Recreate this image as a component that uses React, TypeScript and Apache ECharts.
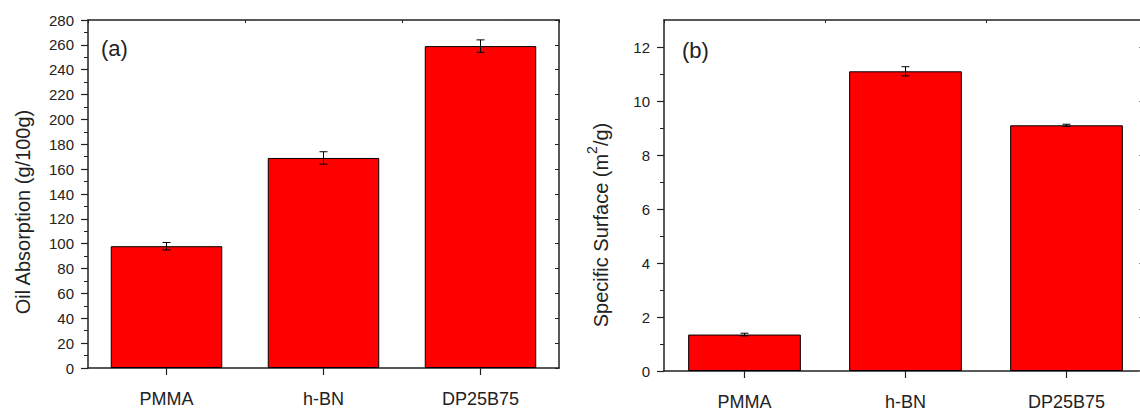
import React, { useEffect, useRef } from "react";
import * as echarts from "echarts";

const categories = ["PMMA", "h-BN", "DP25B75"];
const oilAbsorption = [98, 169, 259];
const oilError = [3, 5, 5];
const specificSurface = [1.35, 11.1, 9.1];
const surfaceError = [0.05, 0.17, 0.04];
const surfaceMajorTicks = [0, 2, 4, 6, 8, 10, 12];
const surfaceMinorTicks = [1, 3, 5, 7, 9, 11];

const FONT = "'Liberation Sans', Arial, sans-serif";
const AX = "#222";

function errorRender(params: any, api: any) {
  const x = api.value(0);
  const v = api.value(1);
  const e = api.value(2);
  const top = api.coord([x, v + e]);
  const bot = api.coord([x, v - e]);
  const w = 4;
  const st = { stroke: "#000", lineWidth: 1 };
  return {
    type: "group",
    children: [
      { type: "line", shape: { x1: top[0], y1: top[1], x2: bot[0], y2: bot[1] }, style: st },
      { type: "line", shape: { x1: top[0] - w, y1: top[1], x2: top[0] + w, y2: top[1] }, style: st },
      { type: "line", shape: { x1: bot[0] - w, y1: bot[1], x2: bot[0] + w, y2: bot[1] }, style: st },
    ],
  };
}

export default function App() {
  const ref = useRef<HTMLDivElement>(null);
  useEffect(() => {
    const chart = echarts.init(ref.current!, null, { renderer: "svg" });
    const lineStyle = { color: AX, width: 1.5 };
    const catBottom = (grid: number) => ({
      type: "category",
      gridIndex: grid,
      position: "bottom",
      data: categories,
      axisLine: { show: true, onZero: false, lineStyle },
      axisTick: { show: true, alignWithLabel: true, length: 7, lineStyle: { color: AX, width: 1.2 } },
      axisLabel: { fontSize: 18, color: AX, fontFamily: FONT, margin: 22 },
    });
    const catTop = (grid: number) => ({
      type: "category",
      gridIndex: grid,
      position: "top",
      data: categories,
      axisLine: { show: true, onZero: false, lineStyle },
      axisTick: { show: true, inside: true, length: 3, lineStyle: { color: AX, width: 1 } },
      axisLabel: { show: false },
    });
    const option: any = {
      animation: false,
      grid: [
        { left: 88, top: 20, width: 471, height: 348, outerBoundsMode: "none", containLabel: false },
        { left: 664, top: 20, width: 483, height: 351, outerBoundsMode: "none", containLabel: false },
      ],
      xAxis: [catBottom(0), catTop(0), catBottom(1), catTop(1)],
      yAxis: [
        {
          type: "value",
          gridIndex: 0,
          position: "left",
          min: 0,
          max: 280,
          interval: 20,
          axisLine: { show: true, onZero: false, lineStyle },
          axisTick: { show: true, length: 7, lineStyle: { color: AX, width: 1.2 } },
          minorTick: { show: true, splitNumber: 2, length: 4, lineStyle: { color: AX, width: 1 } },
          splitLine: { show: false },
          axisLabel: { fontSize: 15, color: AX, fontFamily: FONT, margin: 14 },
        },
        {
          type: "value",
          gridIndex: 0,
          position: "right",
          min: 0,
          max: 280,
          interval: 20,
          axisLine: { show: true, onZero: false, lineStyle },
          axisTick: { show: true, inside: true, length: 4, lineStyle: { color: AX, width: 1 } },
          splitLine: { show: false },
          axisLabel: { show: false },
        },
        {
          type: "value",
          gridIndex: 1,
          position: "left",
          min: 0,
          max: 13,
          interval: 1,
          axisLine: { show: true, onZero: false, lineStyle },
          axisTick: { show: true, length: 7, customValues: surfaceMajorTicks, lineStyle: { color: AX, width: 1.2 } },
          splitLine: { show: false },
          axisLabel: { fontSize: 15, color: AX, fontFamily: FONT, margin: 14, customValues: surfaceMajorTicks },
        },
        {
          type: "value",
          gridIndex: 1,
          position: "right",
          min: 0,
          max: 13,
          interval: 1,
          axisLine: { show: true, onZero: false, lineStyle },
          axisTick: { show: true, inside: true, length: 8, customValues: surfaceMajorTicks, lineStyle: { color: "#888", width: 1 } },
          splitLine: { show: false },
          axisLabel: { show: false },
        },
        {
          type: "value",
          gridIndex: 1,
          position: "left",
          min: 0,
          max: 13,
          interval: 1,
          axisLine: { show: false, onZero: false },
          axisTick: { show: true, length: 4, customValues: surfaceMinorTicks, lineStyle: { color: AX, width: 1 } },
          splitLine: { show: false },
          axisLabel: { show: false },
        },
      ],
      series: [
        {
          type: "bar",
          xAxisIndex: 0,
          yAxisIndex: 0,
          data: oilAbsorption,
          barWidth: "71%",
          itemStyle: { color: "#ff0000", borderColor: "#000", borderWidth: 1 },
        },
        {
          type: "custom",
          xAxisIndex: 0,
          yAxisIndex: 0,
          z: 10,
          renderItem: errorRender,
          encode: { x: 0, y: 1 },
          data: categories.map((_, i) => [i, oilAbsorption[i], oilError[i]]),
        },
        {
          type: "bar",
          xAxisIndex: 2,
          yAxisIndex: 2,
          data: specificSurface,
          barWidth: "70%",
          itemStyle: { color: "#ff0000", borderColor: "#000", borderWidth: 1 },
        },
        {
          type: "custom",
          xAxisIndex: 2,
          yAxisIndex: 2,
          z: 10,
          renderItem: errorRender,
          encode: { x: 0, y: 1 },
          data: categories.map((_, i) => [i, specificSurface[i], surfaceError[i]]),
        },
      ],
      graphic: [
        {
          type: "text",
          x: 23,
          y: 212,
          rotation: Math.PI / 2,
          style: {
            text: "Oil Absorption (g/100g)",
            fontSize: 20,
            fontFamily: FONT,
            fill: AX,
            align: "center",
            verticalAlign: "middle",
          },
        },
        {
          type: "text",
          x: 598,
          y: 225,
          rotation: Math.PI / 2,
          style: {
            text: "{a|Specific Surface (m}{s|2}{a|/g)}",
            fontFamily: FONT,
            fill: AX,
            align: "center",
            verticalAlign: "middle",
            rich: {
              a: { fontSize: 20, fontFamily: FONT, fill: AX, lineHeight: 26, verticalAlign: "bottom" },
              s: { fontSize: 14, fontFamily: FONT, fill: AX, lineHeight: 26, verticalAlign: "top" },
            },
          },
        },
        {
          type: "text",
          x: 101,
          y: 48,
          style: { text: "(a)", fontSize: 22, fontFamily: FONT, fill: AX, verticalAlign: "middle" },
        },
        {
          type: "text",
          x: 682,
          y: 50,
          style: { text: "(b)", fontSize: 22, fontFamily: FONT, fill: AX, verticalAlign: "middle" },
        },
      ],
    };
    chart.setOption(option);
    return () => chart.dispose();
  }, []);
  return (
    <div
      ref={ref}
      style={{ position: "fixed", left: 0, top: 0, width: 1140, height: 412, background: "#fff" }}
    />
  );
}
